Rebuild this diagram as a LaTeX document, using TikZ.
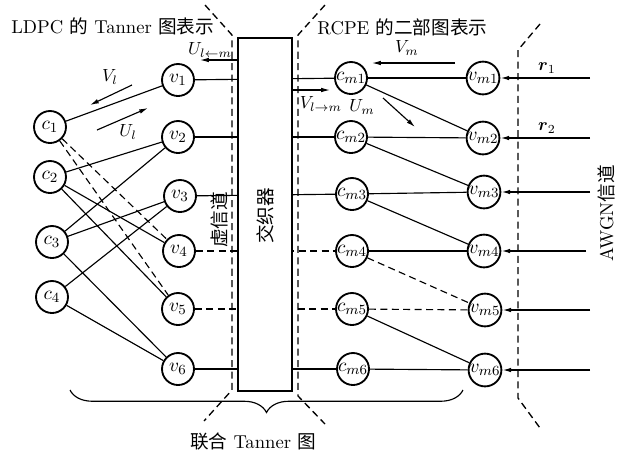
\documentclass[tikz,border=0pt]{standalone}
\usepackage{fontspec}
\usepackage{amsmath}
\newfontfamily\cjk{Noto Sans CJK SC}
\usetikzlibrary{arrows.meta,decorations.pathreplacing}

\begin{document}
\begin{tikzpicture}[x=0.02cm,y=-0.02cm,
  vnode/.style={circle,draw,line width=1.05pt,minimum size=0.64cm,inner sep=0pt,fill=white,
    font=\fontsize{11}{13}\selectfont},
  edge/.style={line width=0.65pt},
  dedge/.style={line width=0.65pt,dash pattern=on 4pt off 2.5pt},
  bound/.style={line width=0.75pt,dash pattern=on 4pt off 2.5pt},
  msg/.style={line width=0.65pt,-{Latex[length=5pt,width=2.6pt]}},
  inarrow/.style={line width=0.8pt,-{Latex[length=5pt,width=2.6pt]}},
  box/.style={draw,line width=0.85pt,fill=white,minimum width=1.08cm,minimum height=7.06cm,inner sep=0pt},
  title/.style={anchor=west,inner sep=0pt,font=\fontsize{10.6}{12}\selectfont},
]
\useasboundingbox (0,0) rectangle (625,454);

% LDPC check nodes
\node[vnode] (c1) at (50,127) {$c_1$};
\node[vnode] (c2) at (50,177) {$c_2$};
\node[vnode] (c3) at (52,242) {$c_3$};
\node[vnode] (c4) at (52,297) {$c_4$};
% LDPC variable nodes
\node[vnode] (v1) at (178,80) {$v_1$};
\node[vnode] (v2) at (178,137) {$v_2$};
\node[vnode] (v3) at (180,196) {$v_3$};
\node[vnode] (v4) at (179,251) {$v_4$};
\node[vnode] (v5) at (178,309) {$v_5$};
\node[vnode] (v6) at (178,369) {$v_6$};
% RCPE check nodes
\node[vnode] (cm1) at (351,78) {$c_{m1}$};
\node[vnode] (cm2) at (351,137) {$c_{m2}$};
\node[vnode] (cm3) at (352,194) {$c_{m3}$};
\node[vnode] (cm4) at (352,251) {$c_{m4}$};
\node[vnode] (cm5) at (352,309) {$c_{m5}$};
\node[vnode] (cm6) at (353,369) {$c_{m6}$};
% RCPE variable nodes
\node[vnode] (vm1) at (483,78) {$v_{m1}$};
\node[vnode] (vm2) at (483,138) {$v_{m2}$};
\node[vnode] (vm3) at (484,192) {$v_{m3}$};
\node[vnode] (vm4) at (484,251) {$v_{m4}$};
\node[vnode] (vm5) at (485,310) {$v_{m5}$};
\node[vnode] (vm6) at (485,370) {$v_{m6}$};

% Tanner graph edges
\draw[edge] (c1) -- (v1);
\draw[dedge] (c1) -- (v4);
\draw[dedge] (c1) -- (v5);
\draw[edge] (c2) -- (v2);
\draw[edge] (c2) -- (v4);
\draw[edge] (c2) -- (v5);
\draw[edge] (c3) -- (v2);
\draw[edge] (c3) -- (v3);
\draw[edge] (c3) -- (v6);
\draw[edge] (c4) -- (v3);
\draw[edge] (c4) -- (v6);

% links through the interleaver
\draw[edge] (v1) -- (cm1);
\draw[edge] (v2) -- (cm2);
\draw[edge] (v3) -- (cm3);
\draw[dedge] (v4) -- (cm4);
\draw[dedge] (v5) -- (cm5);
\draw[edge] (v6) -- (cm6);

% RCPE bipartite graph edges
\draw[edge] (cm1) -- (vm1);
\draw[edge] (cm1) -- (vm2);
\draw[edge] (cm2) -- (vm2);
\draw[edge] (cm2) -- (vm3);
\draw[edge] (cm3) -- (vm3);
\draw[edge] (cm3) -- (vm4);
\draw[edge] (cm4) -- (vm4);
\draw[dedge] (cm4) -- (vm5);
\draw[dedge] (cm5) -- (vm5);
\draw[edge] (cm5) -- (vm6);
\draw[edge] (cm6) -- (vm6);

% interleaver
\node[box] (il) at (265,214.5) {};
\node[rotate=90,font=\fontsize{10.6}{12}\selectfont] (iltext) at (265,216) {\cjk 交织器};

% region boundaries
\draw[bound] (205,5) -- (232,35) -- (232,390) -- (204,421);
\draw[bound] (325,5) -- (298,35) -- (298,396) -- (325,424);
\draw[bound] (540,24) -- (518,50) -- (518,398) -- (540,428);

% channel observations
\coordinate (r1) at (590,78);
\coordinate (r2) at (590,138);
\coordinate (r3) at (590,192);
\coordinate (r4) at (586,251);
\coordinate (r5) at (590,310);
\coordinate (r6) at (590,370);
\draw[inarrow] (r1) -- (vm1);
\draw[inarrow] (r2) -- (vm2);
\draw[inarrow] (r3) -- (vm3);
\draw[inarrow] (r4) -- (vm4);
\draw[inarrow] (r5) -- (vm5);
\draw[inarrow] (r6) -- (vm6);
\node (lr1) at (547,68) {$\boldsymbol{r}_1$};
\node (lr2) at (547,128) {$\boldsymbol{r}_2$};

% message arrows
\coordinate (ua) at (200,60);
\draw[msg] (il.west |- ua) -- (ua);
\node[inner sep=1pt] (lua) at (210,50) {$U_{l\leftarrow m}$};
\coordinate (va) at (330,90);
\draw[msg] (il.east |- va) -- (va);
\node (lva) at (321,104) {$V_{l\rightarrow m}$};
\coordinate (vms) at (455,63);
\coordinate (vme) at (372,63);
\draw[msg] (vms) -- (vme);
\node (lvm) at (407,48) {$V_m$};
\coordinate (ums) at (383,98);
\coordinate (ume) at (415,127);
\draw[msg] (ums) -- (ume);
\node (lum) at (362,107) {$U_m$};
\coordinate (vls) at (132,85);
\coordinate (vle) at (90,105);
\draw[msg] (vls) -- (vle);
\node (lvl) at (110,77) {$V_l$};
\coordinate (uls) at (97,130);
\coordinate (ule) at (148,108);
\draw[msg] (uls) -- (ule);
\node (lul) at (128,132) {$U_l$};

% titles
\node[title] (t1) at (11,26) {LDPC {\cjk 的} Tanner {\cjk 图表示}};
\node[title] (t2) at (317,27) {RCPE {\cjk 的二部图表示}};
\node[rotate=90,font=\fontsize{10.6}{12}\selectfont] (vc) at (219,220) {\cjk 虚信道};
\node[rotate=90,font=\fontsize{10.6}{12}\selectfont] (awgn) at (606,213) {AWGN{\cjk 信道}};

% joint graph brace
\coordinate (bl) at (70,390);
\coordinate (br) at (463,390);
\draw[line width=0.65pt,decorate,decoration={brace,mirror,amplitude=0.45cm}] (bl) -- (br);
\node[font=\fontsize{10.6}{12}\selectfont] (jt) at (253,441) {{\cjk 联合} Tanner {\cjk 图}};
\end{tikzpicture}
\end{document}
